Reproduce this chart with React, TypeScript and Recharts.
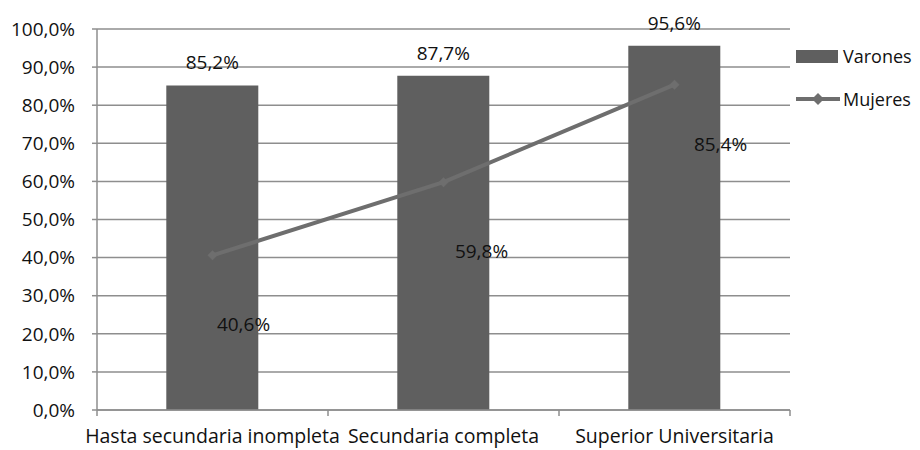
import { ComposedChart, Bar, Line, XAxis, YAxis, CartesianGrid, LabelList } from 'recharts'

const CATEGORIES = ['Hasta secundaria inompleta', 'Secundaria completa', 'Superior Universitaria']
const VARONES = [0.852, 0.877, 0.956]
const MUJERES = [0.406, 0.598, 0.854]
const Y_TICKS = [0, 0.1, 0.2, 0.3, 0.4, 0.5, 0.6, 0.7, 0.8, 0.9, 1]

const BAR_COLOUR = '#5f5f5f'
const LINE_COLOUR = '#6e6e6e'
const GRID_COLOUR = '#8e8e8e'
const FONT = '"Open Sans", sans-serif'
const FS = 19

// where each Mujeres label sits relative to its point
const MUJERES_LABEL_SHIFT = [[31, 76], [38, 76], [46, 66]]

const data = CATEGORIES.map((name, i) => ({ name, varones: VARONES[i], mujeres: MUJERES[i] }))

const pct = (v: number) => (v * 100).toFixed(1).replace('.', ',') + '%'

function Diamond({ cx, cy, r = 5 }: any) {
  if (cx == null || cy == null) return null
  return <path d={`M${cx},${cy - r}L${cx + r},${cy}L${cx},${cy + r}L${cx - r},${cy}Z`} fill={LINE_COLOUR} />
}

function CategoryTick({ x, y, payload, width, visibleTicksCount, index }: any) {
  const half = width / visibleTicksCount / 2
  return (
    <g>
      <line x1={x - half} x2={x - half} y1={y - 8} y2={y - 2} stroke={GRID_COLOUR} strokeWidth={1.5} />
      {index === visibleTicksCount - 1 && (
        <line x1={x + half} x2={x + half} y1={y - 8} y2={y - 2} stroke={GRID_COLOUR} strokeWidth={1.5} />
      )}
      <text x={x} y={y + 25} textAnchor="middle" fontSize={19.5} fontFamily={FONT} fill="#111">
        {payload.value}
      </text>
    </g>
  )
}

function MujeresLabel({ x, y, value, index }: any) {
  const [dx, dy] = MUJERES_LABEL_SHIFT[index] ?? [0, 0]
  return (
    <text x={x + dx} y={y + dy} textAnchor="middle" fontSize={FS} fontFamily={FONT} fill="#111">
      {pct(value)}
    </text>
  )
}

function LegendBox() {
  return (
    <svg width={120} height={70} style={{ position: 'absolute', left: 788, top: 42, overflow: 'visible' }}>
      <rect x={0} y={0} width={42} height={13} fill={BAR_COLOUR} />
      <text x={47} y={13} fontSize={18} fontFamily={FONT} fill="#111">Varones</text>
      <line x1={0} x2={44} y1={49} y2={49} stroke={LINE_COLOUR} strokeWidth={4} />
      <Diamond cx={22} cy={49} r={6} />
      <text x={47} y={56} fontSize={18} fontFamily={FONT} fill="#111">Mujeres</text>
    </svg>
  )
}

export default function App() {
  return (
    <div style={{ position: 'relative', width: 904, height: 442 }}>
      <ComposedChart
        width={904}
        height={442}
        data={data}
        margin={{ top: 21, right: 122, bottom: 2, left: 0 }}
        barCategoryGap="30%"
        style={{ overflow: 'visible' }}
      >
        <CartesianGrid vertical={false} stroke={GRID_COLOUR} strokeWidth={1.5} />
        <XAxis
          dataKey="name"
          interval={0}
          axisLine={{ stroke: GRID_COLOUR, strokeWidth: 1.5 }}
          tickLine={false}
          tick={<CategoryTick />}
          height={38}
        />
        <YAxis
          domain={[0, 1]}
          ticks={Y_TICKS}
          tickFormatter={pct}
          width={89}
          axisLine={{ stroke: GRID_COLOUR, strokeWidth: 1.5 }}
          tickLine={{ stroke: GRID_COLOUR, strokeWidth: 1.5 }}
          tickSize={5}
          tickMargin={17}
          tick={{ fontSize: FS, fontFamily: FONT, fill: '#111' }}
        />
        <Bar dataKey="varones" name="Varones" fill={BAR_COLOUR} isAnimationActive={false}>
          <LabelList
            dataKey="varones"
            position="top"
            offset={16}
            formatter={(v: any) => pct(v)}
            style={{ fontSize: FS, fontFamily: FONT, fill: '#111' }}
          />
        </Bar>
        <Line
          dataKey="mujeres"
          name="Mujeres"
          stroke={LINE_COLOUR}
          strokeWidth={4}
          dot={<Diamond r={5} />}
          activeDot={false}
          isAnimationActive={false}
        >
          <LabelList dataKey="mujeres" content={<MujeresLabel />} />
        </Line>
      </ComposedChart>
      <LegendBox />
    </div>
  )
}
